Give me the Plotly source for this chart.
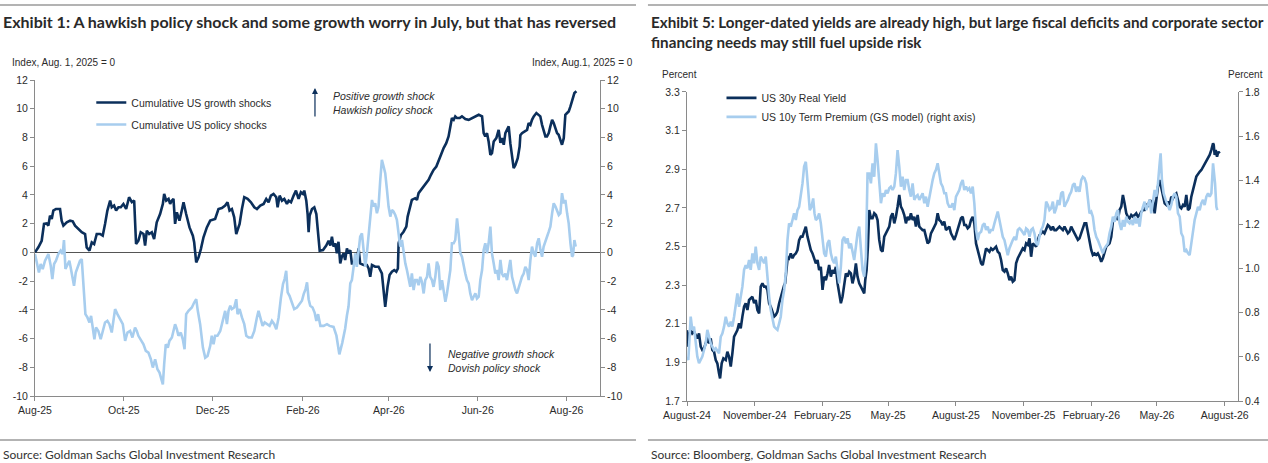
import pandas as pd
import plotly.graph_objects as go

# day offsets are counted from these start dates
LEFT_START = pd.Timestamp("2025-08-01")
RIGHT_START = pd.Timestamp("2024-08-01")

GROWTH_DAYS = [
    0, 2.3, 4.6, 6.2, 8.0, 9.2, 10.3, 11.5, 12.6, 14.4, 17.2, 18.3, 19.5, 21.8, 24.1, 25.9, 27.5, 29.8, 32.1, 34.4,
    35.5, 37.4, 39.0, 40.6, 42.4, 44.7, 46.5, 48.1, 49.7, 51.6, 52.7, 54.3, 55.7, 57.3, 58.9, 60.7, 62.6, 64.6, 66.5, 68.1,
    69.4, 71.0, 72.6, 74.5, 75.6, 76.8, 78.4, 80.2, 81.8, 83.6, 85.9, 87.8, 88.7, 90.1, 91.7, 92.8, 93.9, 95.1, 96.2, 97.4,
    99.2, 100.8, 102.0, 103.8, 106.1, 108.4, 109.3, 110.7, 112.3, 113.9, 115.7, 118.0, 120.3, 123.7, 126.0, 128.3, 130.6, 132.2, 133.6, 135.2,
    136.8, 138.2, 140.5, 142.1, 143.7, 146.0, 148.3, 150.6, 152.4, 154.7, 157.0, 158.8, 160.4, 162.0, 163.8, 165.7, 166.6, 168.0, 169.6, 171.2,
    173.0, 174.2, 175.8, 177.6, 179.2, 181.0, 182.6, 184.0, 184.9, 186.3, 187.2, 187.9, 188.6, 190.2, 191.8, 193.2, 194.1, 195.5, 197.8, 200.0,
    201.6, 202.8, 203.9, 205.0, 206.2, 207.3, 208.4, 209.6, 210.7, 211.9, 213.0, 214.2, 215.3, 216.5, 217.6, 219.9, 221.0, 222.2, 223.3, 225.6,
    227.9, 229.1, 230.2, 231.4, 233.6, 235.9, 238.2, 239.4, 240.5, 242.1, 243.5, 245.1, 246.7, 248.1, 249.2, 249.7, 251.3, 253.1, 255.0, 255.9,
    257.2, 258.8, 261.1, 262.3, 263.4, 265.0, 266.9, 268.7, 270.3, 271.9, 273.7, 275.6, 277.2, 278.8, 280.6, 282.4, 284.0, 285.2, 286.3, 287.5,
    288.6, 289.8, 291.6, 293.2, 295.5, 297.8, 300.1, 302.4, 304.7, 307.0, 308.1, 309.2, 310.4, 311.5, 312.7, 313.8, 315.0, 316.8, 318.4, 319.6,
    320.7, 321.9, 323.0, 324.1, 325.3, 326.4, 327.6, 328.7, 329.9, 331.5, 332.8, 333.3, 334.4, 336.1, 337.9, 339.0, 340.2, 341.3, 342.5, 344.3,
    345.9, 347.0, 348.2, 349.3, 350.5, 351.6, 352.8, 353.9, 355.1, 356.2, 357.4, 358.5, 359.6, 360.8, 361.9, 363.1, 364.2, 365.4, 366.5, 367.7,
    368.8, 369.5, 370.4, 371.8,
]
GROWTH_VALS = [
    0.00, 0.35, 0.81, 1.98, 2.02, 1.86, 2.56, 2.33, 2.91, 3.02, 3.02, 2.21, 1.86, 2.09, 2.21, 2.16, 1.86, 1.63, 1.40, 1.28,
    0.35, 0.12, 0.70, 0.58, 1.28, 1.28, 1.16, 1.98, 2.91, 3.60, 3.14, 3.26, 2.91, 3.14, 3.14, 3.37, 3.02, 3.84, 3.49, 3.60,
    0.58, 0.81, 1.40, 1.28, 0.47, 1.51, 1.28, 1.40, 0.93, 2.09, 2.67, 3.37, 4.07, 3.60, 3.72, 3.37, 3.60, 3.72, 1.98, 2.79,
    2.21, 2.91, 3.49, 2.67, 1.74, 1.16, 0.70, -0.70, -0.35, 0.23, 1.05, 1.74, 2.21, 2.33, 3.02, 3.09, 3.26, 3.49, 2.91, 3.02,
    2.44, 1.28, 1.98, 3.02, 3.84, 3.72, 3.49, 3.14, 3.02, 3.26, 3.37, 3.72, 3.49, 3.95, 4.07, 3.84, 3.14, 3.95, 3.60, 3.72,
    3.37, 3.60, 3.49, 3.95, 4.30, 3.72, 4.19, 4.07, 4.30, 3.60, 2.67, 1.40, 2.56, 3.02, 3.14, 2.67, 1.74, 0.12, 0.16, 0.47,
    0.81, 0.47, 1.09, 0.40, 0.63, -0.07, 0.74, -0.77, -0.30, -0.07, -0.53, 0.28, -0.07, 0.16, -0.77, -0.77, -0.53, 0.28, -0.77, -0.88,
    -0.88, -1.12, -1.70, -0.88, -1.00, -1.00, -1.47, -2.63, -3.79, -2.40, -1.58, -1.35, -1.23, -1.35, -1.12, 0.63, 1.21, 1.44, 1.79, 2.49,
    2.95, 3.65, 3.77, 3.65, 4.12, 4.35, 4.58, 4.81, 5.05, 5.40, 5.74, 5.98, 6.44, 6.79, 7.26, 7.60, 8.07, 8.77, 9.35, 9.23,
    9.47, 9.35, 9.35, 9.47, 9.28, 9.23, 9.35, 9.47, 9.58, 9.47, 8.30, 8.07, 8.30, 7.72, 6.79, 6.91, 7.72, 7.95, 8.53, 7.63,
    7.95, 7.49, 8.30, 8.53, 8.77, 7.60, 6.44, 5.86, 6.09, 6.56, 7.37, 8.16, 8.30, 8.42, 8.53, 9.00, 8.88, 9.23, 9.47, 9.70,
    9.58, 9.47, 8.88, 8.53, 8.07, 8.07, 8.30, 8.77, 9.23, 9.00, 8.53, 8.30, 8.19, 7.84, 7.49, 7.95, 9.58, 9.70, 9.81, 10.16,
    10.63, 10.74, 11.09, 11.21,
]

POLICY_DAYS = [
    0, 1.6, 2.7, 3.9, 5.3, 6.9, 9.2, 10.8, 11.9, 13.1, 14.4, 16.0, 17.6, 19.0, 19.9, 20.9, 22.2, 23.6, 24.5, 25.7,
    26.8, 28.0, 29.3, 30.9, 32.1, 33.2, 34.6, 36.0, 37.4, 38.5, 39.6, 40.8, 41.9, 43.5, 45.1, 46.5, 48.1, 49.7, 51.1, 52.7,
    53.9, 55.0, 56.6, 58.4, 60.3, 61.9, 63.5, 65.3, 66.9, 68.7, 69.9, 71.0, 72.6, 74.5, 76.1, 77.9, 79.5, 80.9, 82.5, 84.1,
    85.5, 86.6, 87.8, 88.7, 89.8, 91.2, 92.3, 94.0, 95.1, 96.2, 97.4, 98.5, 100.1, 101.5, 102.7, 103.8, 105.4, 107.7, 109.3, 110.7,
    111.8, 113.4, 115.3, 116.9, 118.5, 120.3, 121.4, 122.6, 123.7, 125.3, 127.2, 129.0, 130.6, 131.8, 132.9, 134.1, 135.2, 136.8, 138.2, 139.1,
    140.5, 142.1, 143.7, 145.1, 146.7, 148.9, 150.6, 152.4, 153.5, 154.7, 156.3, 157.7, 159.3, 161.1, 162.7, 164.3, 165.7, 167.3, 168.9, 170.3,
    171.4, 172.5, 173.5, 174.8, 176.4, 178.0, 179.9, 181.7, 183.3, 184.5, 185.8, 186.8, 187.9, 189.0, 190.6, 192.0, 193.2, 194.4, 196.0, 198.2,
    200.5, 202.3, 205.0, 207.0, 209.0, 211.0, 213.0, 214.2, 215.3, 216.5, 217.6, 218.8, 219.9, 221.0, 222.2, 223.3, 224.5, 225.6, 226.8, 227.9,
    229.1, 230.2, 231.4, 232.5, 233.6, 234.8, 235.9, 237.1, 238.2, 239.4, 240.5, 241.7, 242.8, 244.0, 245.1, 246.2, 247.4, 248.5, 249.7, 250.8,
    252.0, 253.1, 254.3, 255.4, 256.6, 257.7, 258.8, 260.0, 261.1, 262.3, 263.4, 264.6, 265.7, 266.9, 268.0, 269.2, 270.3, 271.4, 272.6, 273.7,
    274.9, 276.0, 277.2, 278.3, 279.5, 280.6, 281.8, 282.9, 284.0, 285.2, 286.3, 287.5, 288.6, 289.8, 290.9, 292.1, 293.2, 294.4, 295.5, 296.6,
    297.8, 298.9, 300.1, 301.2, 302.4, 303.5, 304.7, 305.8, 307.0, 308.1, 309.2, 310.4, 311.5, 312.7, 313.8, 315.0, 316.1, 317.3, 318.4, 319.6,
    320.7, 321.9, 323.0, 324.1, 325.3, 326.4, 327.6, 328.7, 329.9, 331.0, 332.2, 333.3, 334.4, 335.6, 336.7, 337.9, 339.0, 340.2, 341.3, 342.5,
    343.6, 344.8, 345.9, 347.1, 348.2, 349.3, 350.5, 351.6, 352.8, 353.9, 355.1, 356.2, 357.4, 358.5, 359.7, 360.8, 361.9, 363.1, 364.2, 365.4,
    366.5, 367.7, 368.8, 369.5, 370.4, 371.3,
]
POLICY_VALS = [
    -0.12, -0.93, -1.40, -0.81, -1.16, -0.58, -0.12, -0.93, -1.86, -0.81, -0.58, -0.12, 0.12, -0.12, 0.86, -1.16, -0.93, -0.58, -1.05, -1.63,
    -2.33, -1.40, -1.05, -0.58, -0.47, -2.56, -4.30, -4.53, -4.88, -4.42, -5.35, -6.05, -5.23, -5.47, -6.05, -5.58, -4.88, -4.77, -5.00, -5.58,
    -4.65, -3.95, -4.30, -4.65, -5.00, -6.16, -5.58, -5.47, -5.93, -5.23, -5.47, -5.81, -6.05, -6.40, -6.86, -6.98, -7.42, -8.02, -7.44, -8.14,
    -8.37, -8.84, -9.19, -7.79, -6.40, -6.63, -6.16, -5.93, -5.35, -5.00, -5.35, -5.81, -5.58, -6.05, -6.74, -4.30, -4.07, -3.84, -3.49, -3.26,
    -4.07, -5.00, -6.63, -7.33, -7.21, -6.51, -5.81, -6.40, -5.81, -5.81, -5.47, -4.65, -4.07, -5.00, -4.07, -3.72, -3.95, -3.84, -3.26, -4.30,
    -3.95, -4.53, -5.00, -5.81, -5.93, -5.93, -5.47, -4.53, -4.07, -4.53, -5.12, -4.88, -5.00, -5.12, -4.77, -5.00, -5.35, -4.53, -3.14, -2.21,
    -1.86, -1.28, -2.79, -3.02, -3.49, -3.95, -3.84, -3.60, -3.37, -2.91, -2.56, -2.09, -3.26, -3.72, -3.84, -4.19, -4.77, -4.30, -5.12, -5.12,
    -5.00, -5.12, -5.19, -5.80, -7.10, -6.30, -5.30, -4.40, -3.77, -2.16, -1.93, -1.00, -0.07, -1.00, 0.16, 1.09, 1.33, -0.07, -1.00, -0.07,
    1.09, 2.26, 3.65, 3.19, 3.42, 2.72, 3.19, 5.05, 6.44, 5.98, 5.51, 4.35, 3.19, 2.49, 2.95, 2.84, 2.60, 2.26, 1.09, 0.40,
    0.86, -0.07, -0.77, -1.23, -1.93, -2.40, -1.47, -2.63, -1.93, -1.93, -2.28, -1.70, -2.05, -2.86, -1.93, -1.70, -0.77, -1.70, -1.93, -2.40,
    -1.70, -0.65, -1.00, -2.63, -1.93, -2.86, -3.44, -2.86, -1.93, -1.23, 0.63, 0.63, 0.86, 2.37, 1.33, -0.07, -0.30, -1.00, -1.47, -1.93,
    -2.16, -2.86, -3.33, -3.09, -2.86, -3.21, -3.09, -1.93, -1.23, 0.16, 0.63, -0.07, 0.63, 1.79, -0.07, -0.77, -1.47, -1.23, -1.93, -0.53,
    -1.47, -1.70, -1.47, -1.93, -1.00, -0.53, -1.70, -2.16, -2.63, -2.86, -2.40, -2.16, -1.70, -1.47, -1.00, -1.23, -1.93, -0.53, 0.40, -0.07,
    -0.30, 0.63, 0.98, 0.16, -0.30, 0.40, 0.86, 1.09, 1.44, 1.79, 2.72, 3.42, 3.19, 2.95, 2.60, 2.72, 4.12, 3.42, 3.65, 2.72,
    2.02, 0.63, -0.30, -0.19, 0.86, 0.40,
]

REAL_DAYS = [
    0, 0.9, 2.7, 5.0, 7.2, 9.5, 11.8, 14.0, 16.3, 18.6, 20.8, 23.1, 25.4, 27.6, 29.9, 32.2, 34.4, 36.7, 39.0, 41.2,
    43.5, 44.9, 47.1, 49.4, 52.6, 54.8, 57.1, 59.4, 61.6, 63.9, 66.2, 68.4, 70.7, 72.9, 75.2, 77.5, 79.7, 82.0, 84.3, 86.5,
    88.8, 91.1, 93.3, 95.6, 97.9, 100.1, 102.4, 104.7, 106.9, 109.2, 111.5, 113.7, 116.0, 118.3, 120.5, 122.8, 125.1, 127.3, 129.6, 131.9,
    133.2, 135.0, 136.8, 138.6, 140.9, 143.2, 145.4, 147.7, 150.0, 152.2, 154.5, 156.8, 159.0, 161.3, 163.6, 165.8, 168.1, 170.4, 172.6, 174.9,
    177.2, 179.4, 181.7, 184.0, 186.2, 188.5, 190.8, 193.0, 195.3, 197.6, 199.8, 202.1, 204.4, 206.6, 208.9, 211.1, 213.4, 215.7, 217.9, 220.2,
    222.5, 224.7, 227.0, 229.3, 231.5, 233.8, 236.1, 238.3, 240.6, 242.0, 243.8, 245.6, 247.4, 249.7, 251.9, 254.2, 256.5, 258.7, 261.0, 263.3,
    265.5, 267.8, 270.1, 272.3, 274.6, 276.8, 279.1, 281.4, 283.6, 285.9, 288.2, 290.4, 292.7, 295.0, 297.2, 299.5, 301.8, 304.0, 306.3, 308.6,
    310.8, 313.1, 315.4, 317.6, 319.9, 322.2, 324.4, 326.7, 329.0, 331.2, 333.5, 335.7, 338.0, 340.3, 342.5, 344.8, 347.1, 349.3, 351.6, 353.9,
    356.1, 358.4, 360.7, 362.9, 365.2, 367.5, 369.7, 372.0, 374.3, 376.5, 378.8, 381.1, 383.3, 385.6, 387.9, 390.1, 392.4, 394.7, 396.9, 399.3,
    401.5, 403.8, 406.0, 408.3, 410.6, 412.8, 415.1, 417.4, 419.6, 421.9, 424.2, 426.4, 428.7, 431.0, 433.2, 435.5, 437.8, 440.0, 442.3, 444.6,
    446.8, 449.1, 451.4, 453.6, 455.9, 458.2, 460.4, 462.7, 465.0, 467.2, 469.5, 471.7, 474.0, 476.3, 478.5, 480.8, 483.1, 485.3, 487.6, 489.9,
    492.1, 494.4, 496.7, 498.9, 501.2, 503.5, 505.7, 508.0, 510.3, 512.5, 514.8, 517.1, 519.3, 521.6, 523.9, 526.1, 528.4, 530.7, 532.9, 535.2,
    537.4, 539.7, 542.0, 544.2, 546.5, 548.8, 551.0, 553.3, 555.6, 557.8, 560.1, 562.4, 564.6, 566.9, 569.2, 571.4, 573.7, 576.0, 578.2, 580.5,
    582.8, 585.0, 587.3, 589.6, 591.8, 594.1, 596.4, 598.6, 600.9, 603.1, 605.4, 607.7, 609.9, 612.2, 614.5, 616.7, 619.0, 621.3, 623.5, 625.8,
    628.1, 630.3, 632.6, 634.9, 637.1, 639.4, 641.7, 643.9, 646.2, 648.5, 650.7, 653.0, 655.3, 657.5, 659.8, 662.1, 664.3, 666.6, 668.9, 671.1,
    673.4, 675.6, 677.9, 680.2, 682.4, 684.7, 687.0, 689.2, 691.5, 693.8, 696.0, 698.3, 700.6, 702.8, 705.1, 707.4, 709.6, 711.9, 714.2, 715.1,
    716.4, 717.8, 719.6, 721.4, 723.2,
]
REAL_VALS = [
    2.067, 1.981, 2.042, 2.067, 2.050, 2.059, 2.042, 2.024, 2.050, 1.981, 1.964, 1.973, 1.998, 2.033, 1.998, 2.024, 1.964, 1.955, 1.912, 1.895,
    1.843, 1.817, 1.895, 1.921, 1.912, 1.955, 1.929, 1.878, 1.947, 2.033, 2.050, 2.067, 2.102, 2.076, 2.137, 2.188, 2.206, 2.171, 2.223, 2.232,
    2.240, 2.206, 2.223, 2.171, 2.154, 2.292, 2.309, 2.292, 2.292, 2.275, 2.206, 2.188, 2.163, 2.137, 2.145, 2.163, 2.206, 2.240, 2.275, 2.300,
    2.309, 2.378, 2.447, 2.439, 2.464, 2.439, 2.456, 2.464, 2.482, 2.533, 2.551, 2.551, 2.577, 2.603, 2.551, 2.516, 2.482, 2.464, 2.439, 2.413,
    2.430, 2.378, 2.395, 2.275, 2.344, 2.326, 2.361, 2.404, 2.344, 2.378, 2.361, 2.395, 2.309, 2.257, 2.206, 2.240, 2.309, 2.361, 2.344, 2.370,
    2.361, 2.309, 2.344, 2.413, 2.344, 2.309, 2.292, 2.275, 2.257, 2.326, 2.378, 2.499, 2.689, 2.646, 2.646, 2.672, 2.663, 2.637, 2.534, 2.482,
    2.473, 2.551, 2.568, 2.585, 2.603, 2.654, 2.672, 2.620, 2.654, 2.706, 2.767, 2.706, 2.689, 2.663, 2.620, 2.654, 2.637, 2.672, 2.637, 2.654,
    2.603, 2.663, 2.603, 2.594, 2.585, 2.585, 2.551, 2.516, 2.525, 2.568, 2.585, 2.603, 2.620, 2.672, 2.637, 2.629, 2.611, 2.629, 2.585, 2.594,
    2.603, 2.568, 2.551, 2.534, 2.559, 2.585, 2.611, 2.646, 2.654, 2.611, 2.611, 2.594, 2.603, 2.637, 2.654, 2.620, 2.516, 2.482, 2.464, 2.413,
    2.404, 2.447, 2.490, 2.482, 2.473, 2.490, 2.482, 2.490, 2.499, 2.473, 2.464, 2.430, 2.378, 2.370, 2.387, 2.361, 2.326, 2.344, 2.318, 2.326,
    2.413, 2.439, 2.456, 2.473, 2.490, 2.482, 2.516, 2.508, 2.542, 2.447, 2.516, 2.508, 2.499, 2.534, 2.559, 2.568, 2.577, 2.568, 2.594, 2.611,
    2.603, 2.585, 2.603, 2.585, 2.585, 2.594, 2.603, 2.594, 2.585, 2.603, 2.585, 2.568, 2.577, 2.603, 2.585, 2.568, 2.551, 2.534, 2.542, 2.568,
    2.585, 2.620, 2.620, 2.568, 2.516, 2.482, 2.456, 2.464, 2.456, 2.464, 2.447, 2.421, 2.439, 2.473, 2.499, 2.508, 2.516, 2.551, 2.629, 2.646,
    2.654, 2.637, 2.689, 2.706, 2.767, 2.723, 2.672, 2.654, 2.646, 2.663, 2.654, 2.663, 2.672, 2.654, 2.663, 2.680, 2.689, 2.689, 2.715, 2.706,
    2.741, 2.723, 2.741, 2.672, 2.758, 2.810, 2.844, 2.801, 2.767, 2.723, 2.715, 2.732, 2.715, 2.758, 2.749, 2.767, 2.775, 2.741, 2.706, 2.698,
    2.715, 2.706, 2.767, 2.689, 2.698, 2.758, 2.801, 2.827, 2.862, 2.879, 2.887, 2.896, 2.913, 2.922, 2.939, 2.956, 2.974, 3.000, 3.034, 3.026,
    2.974, 3.000, 2.965, 2.991, 2.982,
]

TP_DAYS = [
    0, 1.8, 5.0, 7.2, 9.5, 11.8, 14.0, 16.3, 18.6, 20.8, 23.1, 25.4, 27.6, 29.9, 32.2, 34.4, 36.7, 39.0, 41.2, 43.5,
    45.8, 48.0, 50.3, 52.6, 54.8, 57.1, 59.4, 61.6, 63.9, 66.2, 68.4, 70.7, 72.9, 75.2, 77.5, 79.7, 82.0, 84.3, 86.5, 88.8,
    91.1, 93.3, 95.6, 97.9, 100.1, 102.4, 104.7, 106.9, 109.2, 111.5, 113.7, 116.0, 118.3, 120.5, 122.8, 125.1, 127.3, 129.6, 131.9, 134.1,
    136.4, 138.6, 140.9, 143.2, 145.4, 147.7, 150.0, 152.2, 154.5, 156.8, 159.0, 161.3, 162.7, 164.9, 166.7, 169.0, 171.3, 173.1, 174.9, 177.2,
    179.4, 181.7, 184.0, 186.2, 188.5, 190.8, 193.0, 195.3, 197.6, 199.8, 202.1, 204.4, 206.6, 208.9, 211.1, 213.4, 215.7, 217.9, 220.2, 222.5,
    224.7, 227.0, 229.3, 231.5, 233.8, 236.1, 238.3, 240.6, 242.9, 245.1, 247.4, 249.7, 251.9, 254.2, 256.5, 258.7, 261.0, 263.3, 265.5, 267.8,
    270.1, 272.3, 274.6, 276.8, 279.1, 281.4, 283.6, 285.9, 288.2, 290.4, 292.7, 295.0, 297.2, 299.5, 301.8, 304.0, 306.3, 308.6, 310.8, 313.1,
    315.4, 317.6, 319.9, 322.2, 324.4, 326.7, 329.0, 331.2, 333.5, 335.7, 338.0, 340.3, 342.5, 344.8, 347.1, 349.3, 351.6, 353.9, 356.1, 358.4,
    360.7, 362.9, 365.2, 367.5, 369.7, 372.0, 374.3, 376.5, 378.8, 381.1, 383.3, 385.6, 387.9, 390.1, 392.4, 394.7, 396.9, 399.3, 401.5, 403.8,
    406.0, 408.3, 410.6, 412.8, 415.1, 417.4, 419.6, 421.9, 424.2, 426.4, 428.7, 431.0, 433.2, 435.5, 437.8, 440.0, 442.3, 444.6, 446.8, 449.1,
    451.4, 453.6, 455.9, 458.2, 460.4, 462.7, 465.0, 467.2, 469.5, 471.7, 474.0, 476.3, 478.5, 480.8, 483.1, 485.3, 487.6, 489.9, 492.1, 494.4,
    496.7, 498.9, 501.2, 503.5, 505.7, 508.0, 510.3, 512.5, 514.8, 517.1, 519.3, 521.6, 523.9, 526.1, 528.4, 530.7, 532.9, 535.2, 537.4, 539.7,
    542.0, 544.2, 546.5, 548.8, 551.0, 553.3, 555.6, 557.8, 560.1, 562.4, 564.6, 566.9, 569.2, 571.4, 573.7, 576.0, 578.2, 580.5, 582.8, 585.0,
    587.3, 589.6, 591.8, 594.1, 596.4, 598.6, 600.9, 603.1, 605.4, 607.7, 609.9, 612.2, 614.5, 616.7, 619.0, 621.3, 623.5, 625.8, 628.1, 630.3,
    632.6, 634.9, 637.1, 639.4, 641.7, 643.0, 644.8, 647.1, 649.8, 653.0, 655.3, 657.5, 659.8, 662.1, 664.3, 666.6, 668.9, 671.1, 673.4, 675.6,
    677.9, 680.2, 682.4, 684.7, 687.0, 689.2, 691.5, 693.8, 696.0, 698.3, 700.6, 702.8, 705.1, 707.4, 709.6, 711.9, 714.2, 715.5, 716.9, 718.7,
    720.0,
]
TP_VALS = [
    0.601, 0.586, 0.782, 0.722, 0.737, 0.661, 0.601, 0.571, 0.586, 0.601, 0.631, 0.661, 0.722, 0.691, 0.661, 0.646, 0.631, 0.639, 0.624, 0.616,
    0.691, 0.706, 0.737, 0.782, 0.752, 0.737, 0.759, 0.737, 0.782, 0.842, 0.887, 0.827, 0.872, 0.918, 0.994, 1.016, 1.001, 1.039, 0.994, 1.069,
    1.024, 1.099, 1.024, 0.994, 1.054, 1.039, 1.024, 1.054, 0.948, 0.873, 0.812, 0.767, 0.737, 0.729, 0.722, 0.752, 0.782, 0.858, 0.903, 0.978,
    1.129, 1.205, 1.190, 1.220, 1.250, 1.220, 1.265, 1.280, 1.326, 1.386, 1.462, 1.484, 1.431, 1.326, 1.265, 1.280, 1.318, 1.250, 1.220, 1.228,
    1.250, 1.205, 1.129, 1.069, 1.054, 1.114, 1.129, 1.069, 1.039, 1.024, 1.054, 0.994, 0.933, 1.009, 1.129, 1.144, 1.114, 1.137, 1.092, 1.114,
    1.069, 1.039, 1.099, 1.160, 1.190, 1.099, 0.994, 0.963, 1.054, 1.431, 1.431, 1.386, 1.477, 1.416, 1.567, 1.492, 1.371, 1.296, 1.341, 1.326,
    1.356, 1.341, 1.364, 1.371, 1.356, 1.371, 1.431, 1.537, 1.462, 1.371, 1.416, 1.356, 1.401, 1.401, 1.356, 1.326, 1.386, 1.311, 1.326, 1.333,
    1.311, 1.326, 1.341, 1.296, 1.326, 1.280, 1.326, 1.356, 1.401, 1.431, 1.447, 1.477, 1.431, 1.386, 1.371, 1.341, 1.341, 1.296, 1.280, 1.280,
    1.296, 1.265, 1.326, 1.341, 1.356, 1.386, 1.401, 1.356, 1.371, 1.356, 1.364, 1.341, 1.371, 1.296, 1.175, 1.129, 1.160, 1.167, 1.197, 1.205,
    1.175, 1.190, 1.160, 1.175, 1.175, 1.205, 1.235, 1.258, 1.220, 1.175, 1.144, 1.129, 1.099, 1.061, 1.092, 1.114, 1.129, 1.144, 1.129, 1.175,
    1.182, 1.175, 1.160, 1.152, 1.182, 1.175, 1.144, 1.175, 1.182, 1.160, 1.114, 1.107, 1.144, 1.175, 1.190, 1.220, 1.303, 1.288, 1.265, 1.273,
    1.303, 1.250, 1.273, 1.311, 1.288, 1.341, 1.348, 1.280, 1.296, 1.311, 1.333, 1.348, 1.379, 1.386, 1.348, 1.371, 1.348, 1.401, 1.416, 1.409,
    1.386, 1.311, 1.250, 1.258, 1.235, 1.175, 1.144, 1.129, 1.107, 1.084, 1.069, 1.092, 1.107, 1.114, 1.160, 1.190, 1.235, 1.212, 1.250, 1.265,
    1.205, 1.175, 1.220, 1.190, 1.235, 1.212, 1.205, 1.220, 1.197, 1.235, 1.205, 1.228, 1.190, 1.250, 1.280, 1.303, 1.265, 1.288, 1.311, 1.250,
    1.296, 1.356, 1.326, 1.386, 1.477, 1.522, 1.401, 1.341, 1.311, 1.280, 1.265, 1.288, 1.326, 1.341, 1.326, 1.250, 1.235, 1.160, 1.144, 1.076,
    1.084, 1.069, 1.061, 1.114, 1.175, 1.220, 1.250, 1.280, 1.265, 1.296, 1.311, 1.288, 1.326, 1.341, 1.326, 1.341, 1.477, 1.431, 1.386, 1.280,
    1.265,
]

LEFT_YTICKS = [-10, -8, -6, -4, -2, 0, 2, 4, 6, 8, 10, 12]
REAL_YTICKS = [1.7, 1.9, 2.1, 2.3, 2.5, 2.7, 2.9, 3.1, 3.3]
TP_YTICKS = [0.4, 0.6, 0.8, 1.0, 1.2, 1.4, 1.6, 1.8]

DARK = "#0b2f5b"
LIGHT = "#a7cdee"
AXIS = "#8a8a8a"
TEXT = "#2b2b2b"
TICK_FONT = dict(family="Liberation Sans, Arial", size=10.5, color=TEXT)


def dates(start, days):
    return start + pd.to_timedelta(days, unit="D")


def main() -> None:
    fig = go.Figure()

    fig.add_trace(go.Scatter(
        x=dates(LEFT_START, GROWTH_DAYS), y=GROWTH_VALS, mode="lines",
        name="Cumulative US growth shocks", line=dict(color=DARK, width=2.6),
        xaxis="x", yaxis="y", legend="legend", legendgroup="g1",
    ))
    fig.add_trace(go.Scatter(
        x=dates(LEFT_START, POLICY_DAYS), y=POLICY_VALS, mode="lines",
        name="Cumulative US policy shocks", line=dict(color=LIGHT, width=2.6),
        xaxis="x", yaxis="y2", legend="legend", legendgroup="g2",
    ))
    fig.add_trace(go.Scatter(
        x=dates(RIGHT_START, REAL_DAYS), y=REAL_VALS, mode="lines",
        name="US 30y Real Yield", line=dict(color=DARK, width=2.6),
        xaxis="x2", yaxis="y3", legend="legend2",
    ))
    fig.add_trace(go.Scatter(
        x=dates(RIGHT_START, TP_DAYS), y=TP_VALS, mode="lines",
        name="US 10y Term Premium (GS model) (right axis)", line=dict(color=LIGHT, width=2.6),
        xaxis="x2", yaxis="y4", legend="legend2",
    ))

    axis_common = dict(
        showgrid=False, showline=True, linecolor=AXIS, linewidth=1,
        ticks="outside", ticklen=4, tickcolor=AXIS, tickfont=TICK_FONT,
        zeroline=False, fixedrange=True, automargin=False,
    )

    fig.update_layout(
        width=1268, height=463,
        margin=dict(l=0, r=0, t=0, b=0),
        paper_bgcolor="white", plot_bgcolor="white",
        font=dict(family="Liberation Sans, Arial", color=TEXT),
        xaxis=dict(
            axis_common, domain=[0.0276, 0.4732], anchor="y", type="date",
            range=["2025-08-01", "2026-08-24"], tick0="2025-08-01", dtick="M2",
            tickformat="%b-%y",
        ),
        yaxis=dict(
            axis_common, domain=[0.1447, 0.8272], anchor="x", range=[-10, 12],
            tickvals=LEFT_YTICKS, ticktext=[str(v) for v in LEFT_YTICKS],
            zeroline=True, zerolinecolor="#555555", zerolinewidth=1.2,
        ),
        yaxis2=dict(
            axis_common, overlaying="y", side="right", anchor="x", range=[-10, 12],
            tickvals=LEFT_YTICKS, ticktext=[str(v) for v in LEFT_YTICKS],
        ),
        xaxis2=dict(
            axis_common, domain=[0.5418, 0.9763], anchor="y3", type="date",
            range=["2024-08-01", "2026-08-19"], tick0="2024-08-01", dtick="M3",
            tickformat="%B-%y",
        ),
        yaxis3=dict(
            axis_common, domain=[0.1339, 0.8013], anchor="x2", range=[1.7, 3.3],
            tickvals=REAL_YTICKS, tickformat=".1f",
        ),
        yaxis4=dict(
            axis_common, overlaying="y3", side="right", anchor="x2", range=[0.4, 1.8],
            tickvals=TP_YTICKS, tickformat=".1f",
        ),
        legend=dict(
            x=0.072, y=0.810, xanchor="left", yanchor="top",
            bgcolor="rgba(0,0,0,0)", font=dict(size=10.5, color=TEXT),
            itemwidth=30, traceorder="grouped", tracegroupgap=3,
        ),
        legend2=dict(
            x=0.569, y=0.820, xanchor="left", yanchor="top",
            bgcolor="rgba(0,0,0,0)", font=dict(size=10.5, color=TEXT),
            itemwidth=30,
        ),
        showlegend=True,
    )

    title_font = dict(family="Lato, Noto Sans", size=16, color="#2a2a2a", weight="bold")
    title_font_r = dict(title_font, size=15.2)
    source_font = dict(family="Lato, Noto Sans", size=12, color="#333333")
    note_font = dict(family="Liberation Sans, Arial", size=10, color=TEXT)
    shock_font = dict(family="Liberation Sans, Arial", size=10.5, color=TEXT)

    notes = [
        dict(text="Exhibit 1: A hawkish policy shock and some growth worry in July, but that has reversed",
             x=0.001, y=0.953, xanchor="left", yanchor="middle", font=title_font),
        dict(text="Exhibit 5: Longer-dated yields are already high, but large fiscal deficits and corporate sector"
                  "<br>financing needs may still fuel upside risk",
             x=0.5118, y=0.977, xanchor="left", yanchor="top", align="left", font=title_font_r),
        dict(text="Index, Aug. 1, 2025 = 0", x=0.008, y=0.866, xanchor="left", yanchor="middle", font=note_font),
        dict(text="Index, Aug.1, 2025 = 0", x=0.501, y=0.866, xanchor="right", yanchor="middle", font=note_font),
        dict(text="Percent", x=0.5205, y=0.840, xanchor="left", yanchor="middle", font=note_font),
        dict(text="Percent", x=0.9976, y=0.840, xanchor="right", yanchor="middle", font=note_font),
        dict(text="Source: Goldman Sachs Global Investment Research",
             x=0.001, y=0.019, xanchor="left", yanchor="middle", font=source_font),
        dict(text="Source: Bloomberg, Goldman Sachs Global Investment Research",
             x=0.5118, y=0.019, xanchor="left", yanchor="middle", font=source_font),
        dict(text="<i>Positive growth shock<br>Hawkish policy shock</i>",
             x=0.2610, y=0.7775, xanchor="left", yanchor="middle", align="left", font=shock_font),
        dict(text="<i>Negative growth shock<br>Dovish policy shock</i>",
             x=0.3518, y=0.2203, xanchor="left", yanchor="middle", align="left", font=shock_font),
    ]
    for n in notes:
        fig.add_annotation(xref="paper", yref="paper", showarrow=False, **n)

    # direction arrows
    fig.add_annotation(xref="paper", yref="paper", x=0.2484, y=0.810, ax=0, ay=30, text="",
                       showarrow=True, arrowhead=2, arrowsize=1, arrowwidth=1.2, arrowcolor=DARK)
    fig.add_annotation(xref="paper", yref="paper", x=0.3391, y=0.1965, ax=0, ay=-30, text="",
                       showarrow=True, arrowhead=2, arrowsize=1, arrowwidth=1.2, arrowcolor=DARK)

    rule = dict(type="line", xref="paper", yref="paper", line=dict(color="#9a9a9a", width=1.5))
    for x0, x1 in [(0.0, 0.5016), (0.511, 1.0)]:
        fig.add_shape(rule, x0=x0, x1=x1, y0=0.989, y1=0.989)
        fig.add_shape(rule, x0=x0, x1=x1, y0=0.0497, y1=0.0497)

    # the page's default 8px body margin would push the figure out of the window
    fig.write_html(
        "out.html",
        config={"displayModeBar": False},
        post_script="document.body.style.margin = '0';",
    )


if __name__ == "__main__":
    main()
